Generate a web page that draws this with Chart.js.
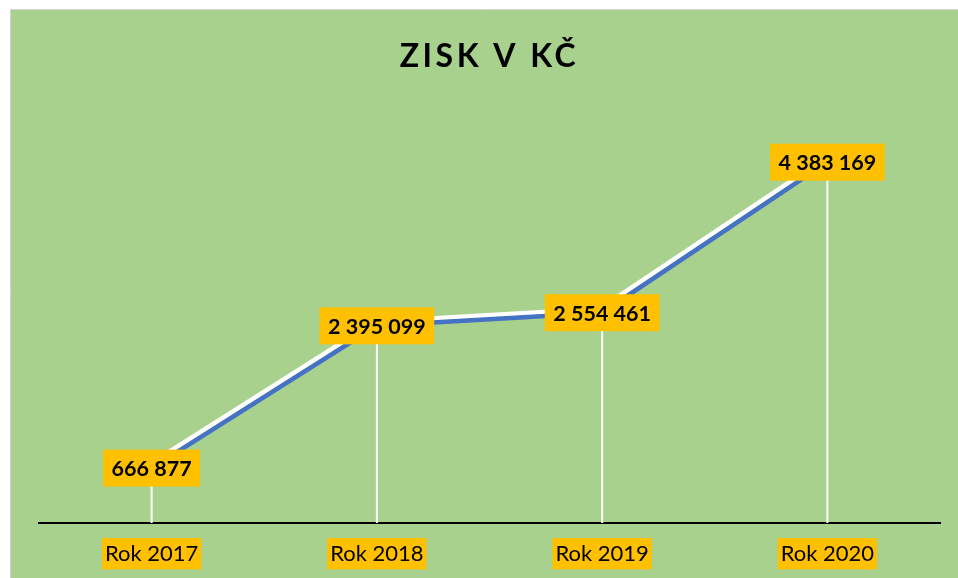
<!DOCTYPE html>
<html>
<head>
<meta charset="utf-8">
<script src="https://cdn.jsdelivr.net/npm/chart.js@4"></script>
<style>
  html, body { margin: 0; padding: 0; background: #ffffff; }
  #wrap { width: 958px; height: 578px; }
</style>
</head>
<body>
<div id="wrap"><canvas id="c" width="958" height="578"></canvas></div>
<script>
const categories = ['Rok 2017', 'Rok 2018', 'Rok 2019', 'Rok 2020'];
const profit = [666877, 2395099, 2554461, 4383169];
const yMin = 0;
const yMax = 5000000;
const chartTitle = 'ZISK V KČ';

const fmt = n => String(n).replace(/\B(?=(\d{3})+(?!\d))/g, ' ');

const bgPlugin = {
  id: 'bg',
  beforeDraw(chart) {
    const ctx = chart.ctx;
    ctx.save();
    ctx.fillStyle = '#ffffff';
    ctx.fillRect(0, 0, chart.width, chart.height);
    ctx.fillStyle = '#A9D18E';
    ctx.fillRect(11, 10, chart.width - 11, chart.height - 10);
    ctx.strokeStyle = '#D4D4D4';
    ctx.lineWidth = 1;
    ctx.beginPath();
    ctx.moveTo(10.5, chart.height);
    ctx.lineTo(10.5, 9.5);
    ctx.lineTo(chart.width, 9.5);
    ctx.stroke();
    ctx.restore();
    ctx.letterSpacing = '3.5px';
  },
  beforeDatasetsDraw(chart) {
    const ctx = chart.ctx;
    ctx.letterSpacing = '0px';
    const meta = chart.getDatasetMeta(0);
    const bottom = chart.chartArea.bottom;
    ctx.save();
    ctx.strokeStyle = '#ffffff';
    ctx.lineWidth = 2;
    meta.data.forEach(pt => {
      ctx.beginPath();
      ctx.moveTo(pt.x, pt.y);
      ctx.lineTo(pt.x, bottom);
      ctx.stroke();
    });
    ctx.restore();
  },
  beforeDatasetDraw(chart) {
    const ctx = chart.ctx;
    ctx.save();
    ctx.shadowColor = '#ffffff';
    ctx.shadowBlur = 0;
    ctx.shadowOffsetX = -2;
    ctx.shadowOffsetY = -4;
  },
  afterDatasetDraw(chart) {
    chart.ctx.restore();
  },
  afterDatasetsDraw(chart) {
    const ctx = chart.ctx;
    const meta = chart.getDatasetMeta(0);
    ctx.save();
    ctx.font = 'bold 21.5px Lato';
    ctx.textAlign = 'center';
    ctx.textBaseline = 'middle';
    meta.data.forEach((pt, i) => {
      const txt = fmt(chart.data.datasets[0].data[i]);
      const w = ctx.measureText(txt).width + 17;
      const h = 37;
      ctx.fillStyle = '#FFC000';
      ctx.fillRect(pt.x - w / 2, pt.y - h / 2, w, h);
      ctx.fillStyle = '#000000';
      ctx.fillText(txt, pt.x, pt.y + 1);
    });
    ctx.restore();
  }
};

new Chart(document.getElementById('c'), {
  type: 'line',
  data: {
    labels: categories,
    datasets: [{
      data: profit,
      borderColor: '#4472C4',
      borderWidth: 4.5,
      pointRadius: 0,
      pointHoverRadius: 0,
      tension: 0,
      fill: false
    }]
  },
  options: {
    responsive: false,
    animation: false,
    events: [],
    layout: { padding: { left: 39, right: 18, top: 10, bottom: 0 } },
    plugins: {
      legend: { display: false },
      tooltip: { enabled: false },
      title: {
        display: true,
        text: chartTitle,
        color: '#000000',
        font: { family: 'Lato', size: 32, weight: 'bold', lineHeight: 1.2 },
        padding: { top: 27, bottom: 36 }
      }
    },
    scales: {
      x: {
        offset: true,
        grid: { display: false, drawTicks: false },
        border: { display: true, color: '#000000', width: 2 },
        afterFit(scale) { scale.height = 55; },
        ticks: {
          z: 1,
          color: '#000000',
          font: { family: 'Lato', size: 22 },
          padding: 18,
          showLabelBackdrop: true,
          backdropColor: '#FFC000',
          backdropPadding: { top: 3, bottom: 2, left: 3, right: 3 }
        }
      },
      y: {
        display: false,
        min: yMin,
        max: yMax
      }
    }
  },
  plugins: [bgPlugin]
});
</script>
</body>
</html>
